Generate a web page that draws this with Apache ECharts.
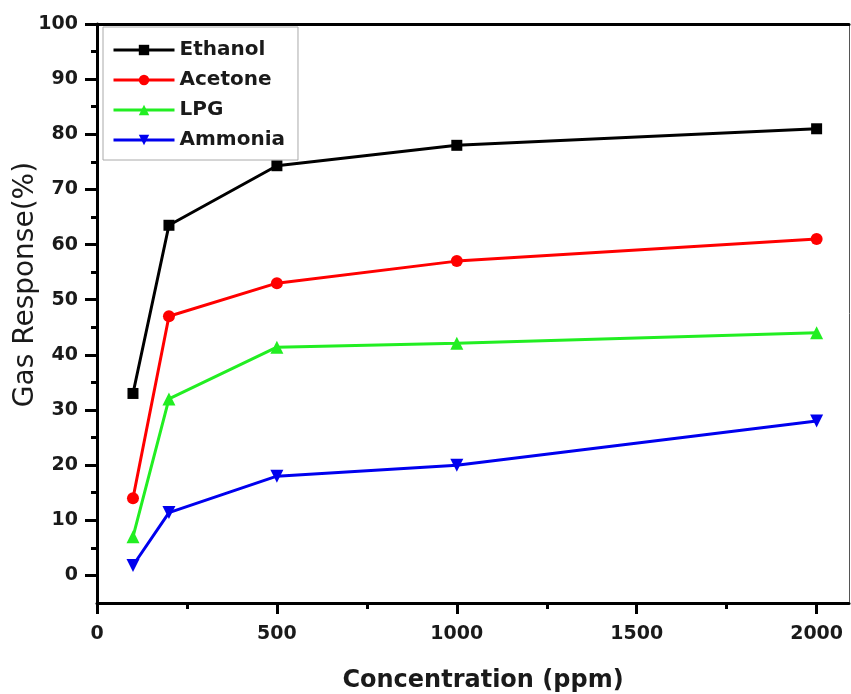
<!DOCTYPE html>
<html><head><meta charset="utf-8">
<script src="https://cdn.jsdelivr.net/npm/echarts@6/dist/echarts.min.js"></script>
<style>html,body{margin:0;padding:0;background:#fff}#c{width:851px;height:694px}</style>
</head><body><div id="c"></div>
<script>
const concentrations = [100, 200, 500, 1000, 2000];
const ethanol = [33, 63.5, 74.3, 78, 81];
const acetone = [14, 47, 53, 57, 61];
const lpg = [7, 32, 41.4, 42.1, 44];
const ammonia = [1.8, 11.4, 18, 20, 28];
const yTicks = [0, 10, 20, 30, 40, 50, 60, 70, 80, 90, 100];
const yMinorTicks = [5, 15, 25, 35, 45, 55, 65, 75, 85, 95];
const xTicks = [0, 500, 1000, 1500, 2000];
const xMinorTicks = [250, 750, 1250, 1750];

const font = '"DejaVu Sans", Verdana, sans-serif';
const chart = echarts.init(document.getElementById('c'));
function pairs(vals){ return concentrations.map((x,i)=>[x, vals[i]]); }
const labelStyle = {fontFamily: font, fontWeight: 'bold', fontSize: 19, color: '#1a1a1a'};
const X = {min: 0, max: 2090, type: 'value'};
const Y = {min: -5, max: 100, type: 'value'};

chart.setOption({
  animation: false,
  backgroundColor: '#fff',
  grid: {left: 97, right: 2, top: 24, bottom: 91, containLabel: false, outerBoundsMode: 'none'},
  legend: {
    orient: 'vertical', left: 103, top: 27,
    padding: [13, 13, 10, 9],
    itemWidth: 61, itemHeight: 13, itemGap: 10,
    borderColor: '#aaa', borderWidth: 1,
    lineStyle: {width: 3},
    textStyle: {fontFamily: font, fontWeight: 'bold', fontSize: 20, color: '#1a1a1a'},
    data: ['Ethanol', 'Acetone', 'LPG', 'Ammonia']
  },
  xAxis: [
    Object.assign({}, X, {
      position: 'bottom',
      name: 'Concentration (ppm)', nameLocation: 'middle', nameGap: 66, nameMoveOverlap: false,
      nameTextStyle: {fontFamily: font, fontWeight: 'bold', fontSize: 24, color: '#1a1a1a', padding: [0, 0, 0, 20]},
      axisLine: {show: true, onZero: false, lineStyle: {color: '#000', width: 3}},
      axisTick: {show: true, inside: false, length: 11, lineStyle: {width: 3, color: '#000'}, customValues: xTicks},
      axisLabel: Object.assign({margin: 22, customValues: xTicks, formatter: v => String(v)}, labelStyle),
      splitLine: {show: false}
    }),
    Object.assign({}, X, {
      position: 'bottom',
      axisLine: {show: false, onZero: false},
      axisTick: {show: true, inside: false, length: 6, lineStyle: {width: 3, color: '#000'}, customValues: xMinorTicks},
      axisLabel: {show: false}, splitLine: {show: false}
    }),
    Object.assign({}, X, {
      position: 'top',
      axisLine: {show: true, onZero: false, lineStyle: {color: '#000', width: 3}},
      axisTick: {show: false}, axisLabel: {show: false}, splitLine: {show: false}
    })
  ],
  yAxis: [
    Object.assign({}, Y, {
      position: 'left',
      name: 'Gas Response(%)', nameLocation: 'middle', nameGap: 57, nameRotate: 90, nameMoveOverlap: false,
      nameTextStyle: {fontFamily: font, fontWeight: 'normal', fontSize: 28, color: '#1a1a1a', padding: [0, 0, 0, 58]},
      axisLine: {show: true, onZero: false, lineStyle: {color: '#000', width: 3}},
      axisTick: {show: true, inside: false, length: 12, lineStyle: {width: 3, color: '#000'}, customValues: yTicks},
      axisLabel: Object.assign({margin: 19, customValues: yTicks}, labelStyle),
      splitLine: {show: false}
    }),
    Object.assign({}, Y, {
      position: 'left',
      axisLine: {show: false, onZero: false},
      axisTick: {show: true, inside: false, length: 6, lineStyle: {width: 3, color: '#000'}, customValues: yMinorTicks},
      axisLabel: {show: false}, splitLine: {show: false}
    }),
    Object.assign({}, Y, {
      position: 'right',
      axisLine: {show: true, onZero: false, lineStyle: {color: '#555', width: 1}},
      axisTick: {show: false}, axisLabel: {show: false}, splitLine: {show: false}
    })
  ],
  series: [
    {name: 'Ethanol', type: 'line', data: pairs(ethanol), symbol: 'rect', symbolSize: 11,
     lineStyle: {width: 3, color: '#000'}, itemStyle: {color: '#000'}},
    {name: 'Acetone', type: 'line', data: pairs(acetone), symbol: 'circle', symbolSize: 12,
     lineStyle: {width: 3, color: '#ff0000'}, itemStyle: {color: '#ff0000'}},
    {name: 'LPG', type: 'line', data: pairs(lpg), symbol: 'triangle', symbolSize: 13,
     lineStyle: {width: 3, color: '#22ee22'}, itemStyle: {color: '#22ee22'}},
    {name: 'Ammonia', type: 'line', data: pairs(ammonia), symbol: 'triangle', symbolRotate: 180, symbolSize: 13,
     lineStyle: {width: 3, color: '#0000ee'}, itemStyle: {color: '#0000ee'}}
  ]
});
</script></body></html>
